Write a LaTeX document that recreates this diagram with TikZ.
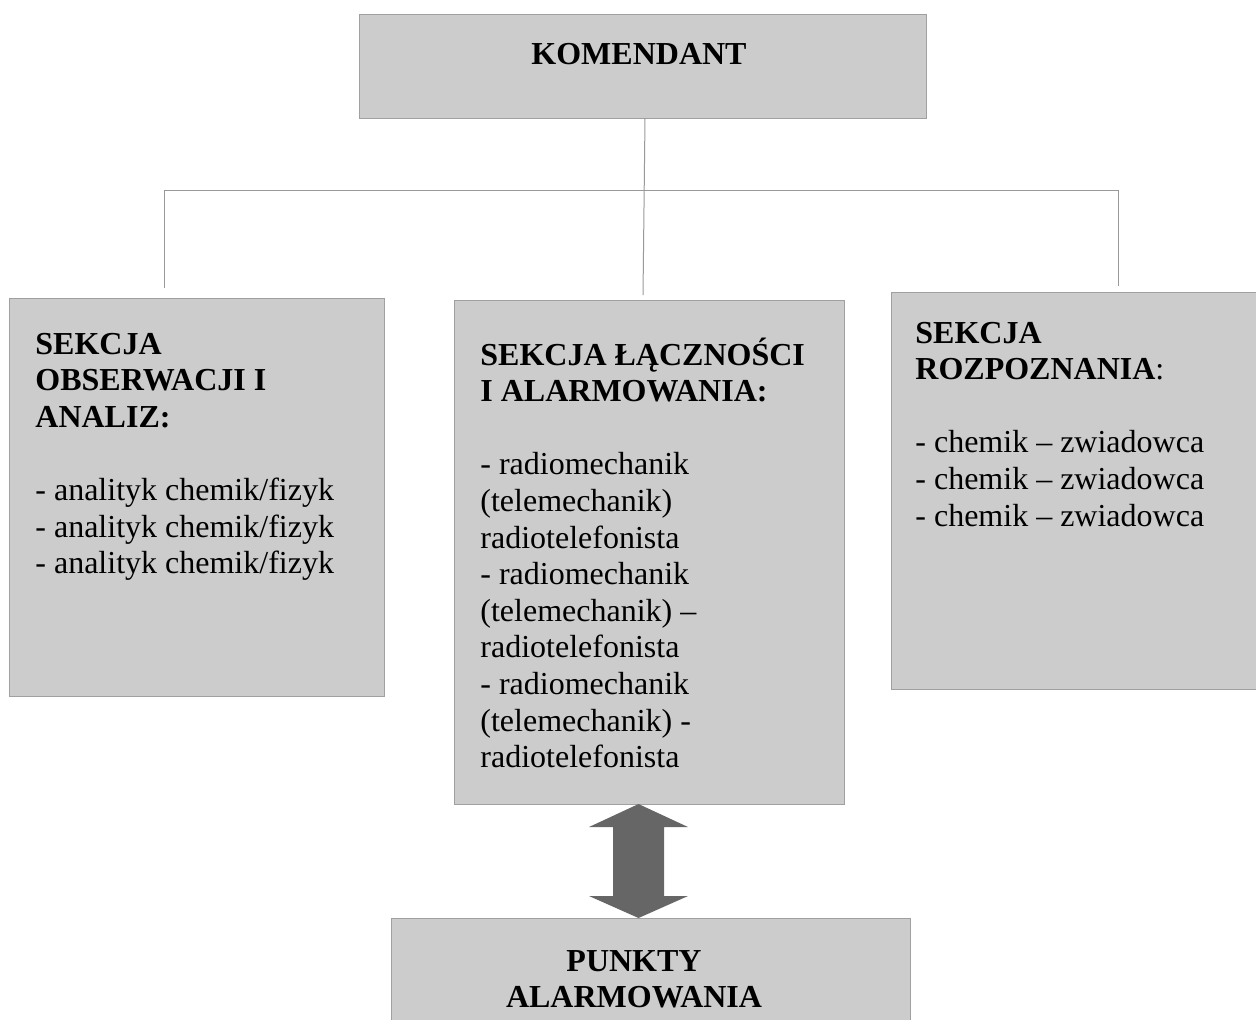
\documentclass[tikz,border=0pt]{standalone}
\usepackage{fontspec}
\setmainfont{Liberation Serif}
\definecolor{boxfill}{HTML}{CCCCCC}
\definecolor{boxline}{HTML}{A0A0A0}
\definecolor{connline}{HTML}{999999}
\definecolor{arrowfill}{HTML}{666666}
\begin{document}
\begin{tikzpicture}[x=0.5pt,y=-0.5pt,
  box/.style={draw=boxline,fill=boxfill,line width=0.5pt,rectangle,anchor=north west,inner sep=0pt},
  conn/.style={draw=connline,line width=0.5pt},
  txt/.style={inner sep=0pt,font=\fontsize{16}{18.3}\selectfont,align=flush left,anchor=base west},
  ctxt/.style={inner sep=0pt,font=\fontsize{16}{18.3}\selectfont\bfseries,align=flush center,anchor=base}]
\useasboundingbox (0,0) rectangle (1256,1019);
\clip (0,0) rectangle (1256,1019);
% boxes
\node[box,minimum width=283.5pt,minimum height=52pt] (kom) at (359,14) {};
\node[box,minimum width=187.5pt,minimum height=199pt] (left) at (9,298) {};
\node[box,minimum width=195pt,minimum height=252pt] (mid) at (454,300) {};
\node[box,minimum width=190pt,minimum height=198.5pt] (right) at (891,292) {};
\node[box,minimum width=259.5pt,minimum height=60pt] (punkty) at (391,918) {};
% texts
\node[ctxt,text width=200pt] (komT) at (639,64) {KOMENDANT};
\node[txt,text width=170pt] (leftT) at (35,354) {\textbf{SEKCJA}\\ \textbf{OBSERWACJI I}\\ \textbf{ANALIZ:}\\[18.3pt]- analityk chemik/fizyk\\- analityk chemik/fizyk\\- analityk chemik/fizyk};
\node[txt,text width=180pt] (midT) at (480,365) {\textbf{SEKCJA ŁĄCZNOŚCI}\\ \textbf{I ALARMOWANIA:}\\[18.3pt]- radiomechanik\\(telemechanik)\\radiotelefonista\\- radiomechanik\\(telemechanik) –\\radiotelefonista\\- radiomechanik\\(telemechanik) -\\radiotelefonista};
\node[txt,text width=170pt] (rightT) at (915,343) {\textbf{SEKCJA}\\ \textbf{ROZPOZNANIA}:\\[18.3pt]- chemik – zwiadowca\\- chemik – zwiadowca\\- chemik – zwiadowca};
\node[ctxt,text width=240pt] (punktyT) at (634,971) {PUNKTY\\ALARMOWANIA};
% connectors
\coordinate (ktop) at (645,118);
\coordinate (mtop) at (643,295);
\coordinate (hl) at (164,190);
\coordinate (hr) at (1118,190);
\coordinate (lend) at (164,288);
\coordinate (rend) at (1118,286);
\draw[conn] (ktop) -- (mtop);
\draw[conn] (hl) -- (hr);
\draw[conn] (hl) -- (lend);
\draw[conn] (hr) -- (rend);
% double arrow between middle section and alarm points
\fill[arrowfill] (638.5,804) -- (688,827) -- (664,827) -- (664,896) -- (688,896)
  -- (638.5,918) -- (589,896) -- (613,896) -- (613,827) -- (589,827) -- cycle;
\end{tikzpicture}
\end{document}
